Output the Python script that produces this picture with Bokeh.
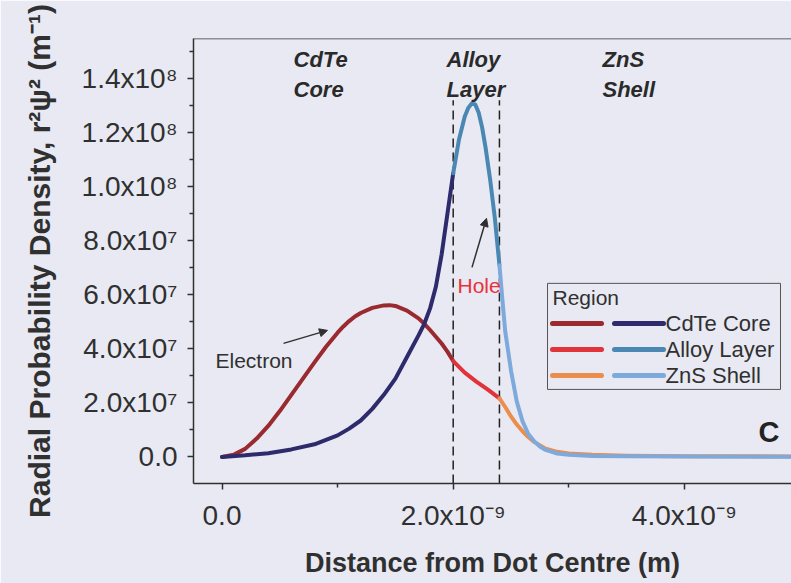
import numpy as np
from bokeh.plotting import figure
from bokeh.models import Range1d, FixedTicker, Span, Label, Arrow, NormalHead, BoxAnnotation
from bokeh.embed import file_html
from bokeh.resources import INLINE

# ---------------- data ----------------
# distance in nm, radial probability density in units of 1e7 m^-1
electron_x_nm = [0.0, 0.1, 0.2, 0.3, 0.4, 0.5, 0.6, 0.7, 0.8, 0.9, 1.0, 1.05, 1.1, 1.15, 1.2, 1.3,
                 1.4, 1.45, 1.5, 1.6, 1.7, 1.75, 1.8, 1.9, 1.95, 2.0, 2.1, 2.2, 2.3, 2.4, 2.45,
                 2.5, 2.55, 2.6, 2.65, 2.7, 2.8, 2.9, 3.0, 3.2, 3.5, 4.0, 4.95]
electron_y = [0.0, 0.08, 0.30, 0.68, 1.15, 1.70, 2.30, 2.90, 3.50, 4.08, 4.60, 4.83, 5.03, 5.20, 5.33, 5.52,
              5.61, 5.62, 5.59, 5.42, 5.13, 4.93, 4.70, 4.20, 3.90, 3.55, 3.12, 2.79, 2.49, 2.17, 1.85,
              1.50, 1.20, 0.95, 0.74, 0.56, 0.31, 0.19, 0.13, 0.08, 0.05, 0.03, 0.02]

hole_x_nm = [0.0, 0.2, 0.4, 0.6, 0.8, 1.0, 1.1, 1.2, 1.3, 1.4, 1.5, 1.6, 1.7, 1.75, 1.8,
             1.85, 1.9, 1.95, 2.0, 2.05, 2.1, 2.13, 2.16, 2.19, 2.22, 2.25, 2.28, 2.32, 2.36,
             2.4, 2.43, 2.45, 2.5, 2.55, 2.6, 2.65, 2.7, 2.75, 2.8, 2.9, 3.0, 3.2, 3.5, 4.0, 4.95]
hole_y = [0.0, 0.06, 0.14, 0.28, 0.47, 0.80, 1.05, 1.35, 1.78, 2.30, 2.90, 3.70, 4.50, 4.93, 5.50,
          6.30, 7.50, 9.00, 10.50, 11.75, 12.60, 12.92, 13.08, 13.05, 12.75, 12.20, 11.45, 10.25, 8.85,
          7.10, 5.60, 4.65, 3.20, 2.05, 1.32, 0.85, 0.58, 0.39, 0.26, 0.13, 0.08, 0.04, 0.03, 0.02, 0.01]

regions = ["CdTe Core", "Alloy Layer", "ZnS Shell"]
region_top_words = ["CdTe", "Alloy", "ZnS"]
region_bottom_words = ["Core", "Layer", "Shell"]
region_edges_nm = [0.0, 2.0, 2.4, 4.95]
layer_boundaries_nm = [2.0, 2.4]

electron_colors = ["#9a2a2f", "#e2323a", "#eb8d4c"]
hole_colors = ["#2d2b6b", "#4a87b2", "#7ea9dc"]

y_ticks = [0, 2e7, 4e7, 6e7, 8e7, 1e8, 1.2e8, 1.4e8]
y_tick_labels = ["0.0", "2.0x10⁷", "4.0x10⁷", "6.0x10⁷", "8.0x10⁷",
                 "1.0x10⁸", "1.2x10⁸", "1.4x10⁸"]
y_minor = [1e7, 3e7, 5e7, 7e7, 9e7, 1.1e8, 1.3e8, 1.5e8]
x_ticks = [0, 2e-9, 4e-9]
x_tick_labels = ["0.0", "2.0x10⁻⁹", "4.0x10⁻⁹"]
x_minor = [1e-9, 3e-9]

# ---------------- layout helpers (page pixel -> data) ----------------
FX0, FXS = 221.5, 115.6   # page px of x=0, px per nm
FY0, FYS = 456.5, 27.0    # page px of y=0, px per 1e7


def dx(px):
    return (px - FX0) / FXS * 1e-9


def dy(py):
    return (FY0 - py) / FYS * 1e7


BG = "#e8e9f2"
INK = "#303030"
FONT = "Liberation Sans"

p = figure(width=791, height=583, output_backend="svg", toolbar_location=None,
           x_range=Range1d(dx(193), dx(791)), y_range=Range1d(dy(483), dy(38.3)),
           min_border_left=193, min_border_right=0, min_border_top=38, min_border_bottom=100)
p.grid.visible = False
p.outline_line_color = None
p.background_fill_color = BG
p.border_fill_color = BG

# top frame line
p.add_layout(Span(location=dy(38.3), dimension="width", line_color=INK, line_width=1.5))

# axes
p.xaxis.ticker = FixedTicker(ticks=x_ticks, minor_ticks=x_minor)
p.yaxis.ticker = FixedTicker(ticks=y_ticks, minor_ticks=y_minor)
p.xaxis.major_label_overrides = dict(zip(x_ticks, x_tick_labels))
p.yaxis.major_label_overrides = dict(zip(y_ticks, y_tick_labels))
p.xaxis.axis_label = "Distance from Dot Centre (m)"
p.yaxis.axis_label = "Radial Probability Density, r²ψ² (m⁻¹)"
for ax in (p.xaxis, p.yaxis):
    ax.major_label_text_font = FONT
    ax.major_label_text_font_size = "28px"
    ax.major_label_text_color = INK
    ax.axis_label_text_font = FONT
    ax.axis_label_text_font_style = "bold"
    ax.axis_label_text_color = INK
    ax.axis_line_color = INK
    ax.axis_line_width = 1.5
    ax.major_tick_line_color = INK
    ax.minor_tick_line_color = INK
    ax.major_tick_line_width = 1.5
    ax.minor_tick_line_width = 1.5
    ax.major_tick_out = 6
    ax.major_tick_in = 0
    ax.minor_tick_out = 4
    ax.minor_tick_in = 0
    ax.major_label_standoff = 10
p.xaxis.axis_label_text_font_size = "27px"
p.yaxis.axis_label_text_font_size = "30px"
p.xaxis.axis_label_standoff = 14
p.yaxis.axis_label_standoff = 23

# layer boundaries
p.segment(x0=[b * 1e-9 for b in layer_boundaries_nm], x1=[b * 1e-9 for b in layer_boundaries_nm],
          y0=dy(483), y1=dy(100), line_color="#222222", line_width=1.5, line_dash="9 5")

# curves, split by region
ex = np.array(electron_x_nm)
ey = np.array(electron_y)
hx = np.array(hole_x_nm)
hy = np.array(hole_y)
for i in range(3):
    lo, hi = region_edges_nm[i], region_edges_nm[i + 1]
    m = (ex >= lo) & (ex <= hi)
    p.line(ex[m] * 1e-9, ey[m] * 1e7, line_color=electron_colors[i], line_width=4,
           line_cap="round", line_join="round")
for i in range(3):
    lo, hi = region_edges_nm[i], region_edges_nm[i + 1]
    m = (hx >= lo) & (hx <= hi)
    p.line(hx[m] * 1e-9, hy[m] * 1e7, line_color=hole_colors[i], line_width=4,
           line_cap="round", line_join="round")


def label(px, py, text, size, color=INK, style="normal"):
    p.add_layout(Label(x=dx(px), y=dy(py), text=text, text_font=FONT, text_font_style=style,
                       text_font_size=size, text_color=color, text_baseline="middle"))


# region headings (cap-centre positions)
for word_top, word_bot, px in zip(region_top_words, region_bottom_words, [293, 446, 602]):
    label(px, 59.5, word_top, "22px", "#2a2a2a", "bold italic")
    label(px, 89.5, word_bot, "22px", "#2a2a2a", "bold italic")

# annotations
label(215, 360, "Electron", "21px")
p.add_layout(Arrow(end=NormalHead(size=8, fill_color=INK, line_color=INK),
                   x_start=dx(283), y_start=dy(343), x_end=dx(327), y_end=dy(330),
                   line_color=INK, line_width=1.5))
label(457, 285, "Hole", "21px", "#e8323a")
p.add_layout(Arrow(end=NormalHead(size=8, fill_color=INK, line_color=INK),
                   x_start=dx(471.5), y_start=dy(267), x_end=dx(486), y_end=dy(218),
                   line_color=INK, line_width=1.5))
label(758, 432, "C", "29px", "#222222", "bold")

# legend (two swatches per region)
p.add_layout(BoxAnnotation(left=dx(547), right=dx(780), top=dy(283), bottom=dy(389),
                           fill_color=BG, fill_alpha=1, line_color="#555555", line_alpha=1,
                           line_width=1, level="underlay"))
label(552, 297, "Region", "21px")
rows = [323, 349, 375]
p.segment(x0=[dx(552)] * 3, x1=[dx(601)] * 3, y0=[dy(r) for r in rows], y1=[dy(r) for r in rows],
          line_color=electron_colors, line_width=5, line_cap="round")
p.segment(x0=[dx(614)] * 3, x1=[dx(663)] * 3, y0=[dy(r) for r in rows], y1=[dy(r) for r in rows],
          line_color=hole_colors, line_width=5, line_cap="round")
for name, r in zip(regions, rows):
    label(665, r, name, "22px")

open("out.html", "w").write(file_html(p, INLINE))
